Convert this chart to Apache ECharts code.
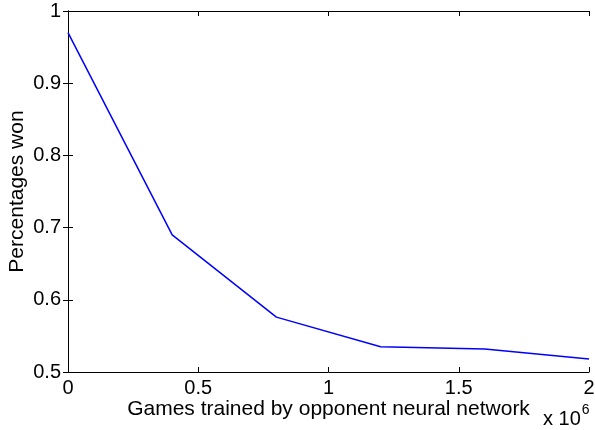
<!DOCTYPE html>
<html>
<head>
<meta charset="utf-8">
<script src="https://cdn.jsdelivr.net/npm/echarts@6/dist/echarts.min.js"></script>
<style>
html,body{margin:0;padding:0;background:#fff;}
#c{width:595px;height:430px;}
</style>
</head>
<body>
<div id="c"></div>
<script>
const gamesTrained = [0, 400000, 800000, 1200000, 1600000, 2000000];
const percentagesWon = [0.970, 0.690, 0.576, 0.535, 0.532, 0.518];
const xTickLabels = ['0', '0.5', '1', '1.5', '2'];
const yTickLabels = ['0.5', '0.6', '0.7', '0.8', '0.9', '1'];

const FONT = '"Liberation Sans", Arial, Helvetica, sans-serif';
const chart = echarts.init(document.getElementById('c'), null, {renderer: 'canvas'});

const axisLineStyle = {show: true, lineStyle: {color: '#000', width: 1}};
const tickStyle = {show: true, inside: true, length: 5, lineStyle: {color: '#000', width: 1}};

chart.setOption({
  animation: false,
  backgroundColor: '#fff',
  grid: {left: 68, right: 6, top: 11, bottom: 58, containLabel: false, outerBoundsMode: 'none'},
  xAxis: [{
    type: 'value', min: 0, max: 2000000, interval: 500000, position: 'bottom',
    axisLine: axisLineStyle, axisTick: tickStyle, splitLine: {show: false},
    axisLabel: {
      color: '#000', fontFamily: FONT, fontSize: 20, margin: 6,
      formatter: function (v) { return xTickLabels[Math.round(v / 500000)]; }
    },
    name: 'Games trained by opponent neural network', nameLocation: 'middle', nameGap: 27,
    nameMoveOverlap: false,
    nameTextStyle: {color: '#000', fontFamily: FONT, fontSize: 21}
  }, {
    type: 'value', min: 0, max: 2000000, interval: 500000, position: 'top',
    axisLine: axisLineStyle, axisTick: tickStyle, splitLine: {show: false},
    axisLabel: {show: false}
  }],
  yAxis: [{
    type: 'value', min: 0.5, max: 1, interval: 0.1, position: 'left',
    axisLine: axisLineStyle, axisTick: tickStyle, splitLine: {show: false},
    axisLabel: {
      color: '#000', fontFamily: FONT, fontSize: 20, margin: 7,
      formatter: function (v) { return yTickLabels[Math.round((v - 0.5) / 0.1)]; }
    },
    name: 'Percentages won', nameLocation: 'middle', nameGap: 40, nameRotate: 90,
    nameMoveOverlap: false,
    nameTextStyle: {color: '#000', fontFamily: FONT, fontSize: 21}
  }, {
    type: 'value', min: 0.5, max: 1, interval: 0.1, position: 'right',
    axisLine: axisLineStyle, axisTick: tickStyle, splitLine: {show: false},
    axisLabel: {show: false}
  }],
  graphic: [{
    type: 'text', left: 543, top: 403,
    style: {
      text: '{b|x 10}{s|6}',
      rich: {
        b: {fontFamily: FONT, fontSize: 20, fill: '#000', verticalAlign: 'bottom', lineHeight: 26},
        s: {fontFamily: FONT, fontSize: 14, fill: '#000', verticalAlign: 'top', lineHeight: 26, padding: [0, 0, 12, 1]}
      }
    }
  }],
  series: [{
    type: 'line', xAxisIndex: 0, yAxisIndex: 0,
    data: gamesTrained.map((x, i) => [x, percentagesWon[i]]),
    symbol: 'none', lineStyle: {color: '#0000ff', width: 1.5}, itemStyle: {color: '#0000ff'}
  }]
});
</script>
</body>
</html>
